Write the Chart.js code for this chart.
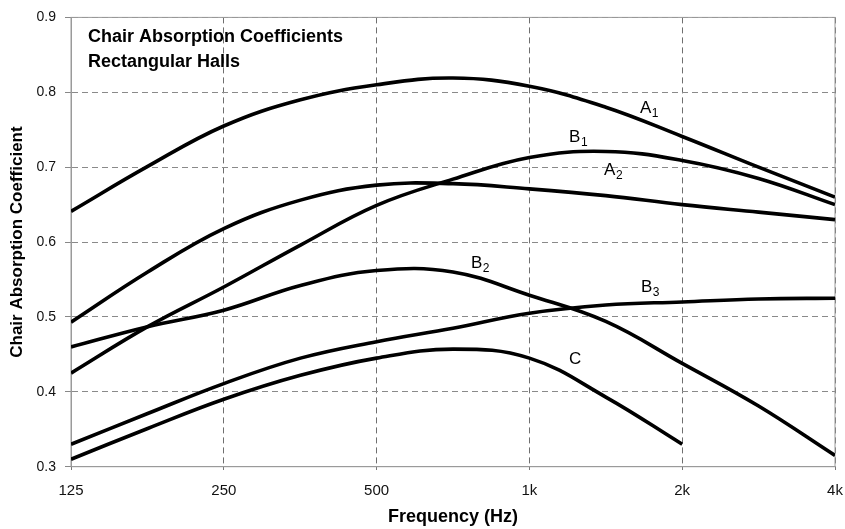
<!DOCTYPE html>
<html><head><meta charset="utf-8">
<script src="https://cdn.jsdelivr.net/npm/chart.js@4/dist/chart.umd.min.js"></script>
<style>html,body{margin:0;padding:0;background:#fff}#wrap{width:845px;height:529px}</style>
</head><body><div id="wrap"><canvas id="c" width="845" height="529"></canvas></div>
<script>
const freqs = [125, 177, 250, 354, 500, 707, 1000, 1414, 2000, 2828, 4000];
const xTickValues = [125, 250, 500, 1000, 2000, 4000];
const xTickLabels = ["125", "250", "500", "1k", "2k", "4k"];
const A1 = [0.641, 0.701, 0.755, 0.790, 0.810, 0.819, 0.808, 0.780, 0.741, 0.700, 0.660];
const A2 = [0.493, 0.560, 0.618, 0.656, 0.676, 0.678, 0.671, 0.662, 0.650, 0.640, 0.630];
const B1 = [0.425, 0.487, 0.540, 0.596, 0.649, 0.684, 0.713, 0.721, 0.709, 0.685, 0.650];
const B2 = [0.460, 0.487, 0.509, 0.542, 0.562, 0.560, 0.529, 0.494, 0.438, 0.381, 0.315];
const B3 = [0.330, 0.371, 0.411, 0.445, 0.467, 0.485, 0.505, 0.516, 0.520, 0.524, 0.525];
const C  = [0.310, 0.351, 0.390, 0.422, 0.445, 0.457, 0.445, 0.393, 0.330];
const curveNames = ["A1", "A2", "B1", "B2", "B3", "C"];
const labelMain = ["A", "A", "B", "B", "B", "C"];
const labelSub  = ["1", "2", "1", "2", "3", ""];
const labelFreq = [1651, 1403, 1197, 767, 1659, 1197];
const labelVal  = [0.772, 0.689, 0.734, 0.566, 0.533, 0.437];

const series = [A1, A2, B1, B2, B3, C];
const datasets = series.map((vals, i) => ({
  label: curveNames[i],
  data: vals.map((v, j) => ({x: freqs[j], y: v})),
  borderColor: '#000', borderWidth: 3.6, pointRadius: 0,
  tension: 0.4, fill: false, borderCapStyle: 'butt', borderJoinStyle: 'round'
}));

const FONT = '"Liberation Sans", Arial, sans-serif';

const decor = {
  id: 'decor',
  beforeDatasetsDraw(chart) {
    const {ctx, chartArea: a} = chart;
    ctx.save();
    ctx.strokeStyle = '#9a9a9a'; ctx.lineWidth = 1;
    ctx.strokeRect(a.left, a.top, a.right - a.left, a.bottom - a.top);
    ctx.restore();
  },
  afterDatasetsDraw(chart) {
    const {ctx, scales: {x, y}} = chart;
    ctx.save();
    ctx.fillStyle = '#000';
    ctx.textBaseline = 'alphabetic';
    ctx.font = 'bold 18px ' + FONT;
    ctx.fillText('Chair Absorption Coefficients', 88, 42);
    ctx.fillText('Rectangular Halls', 88, 67);
    for (let i = 0; i < labelMain.length; i++) {
      const px = x.getPixelForValue(labelFreq[i]);
      const py = y.getPixelForValue(labelVal[i]);
      ctx.font = '17px ' + FONT;
      ctx.fillText(labelMain[i], px, py);
      const w = ctx.measureText(labelMain[i]).width;
      if (labelSub[i]) {
        ctx.font = '12px ' + FONT;
        ctx.fillText(labelSub[i], px + w + 0.5, py + 4);
      }
    }
    ctx.restore();
  }
};

new Chart(document.getElementById('c'), {
  type: 'line',
  data: {datasets},
  options: {
    responsive: false, animation: false, devicePixelRatio: 1,
    layout: {padding: {left: 0, right: 10, top: 16.7, bottom: 0}},
    plugins: {legend: {display: false}, tooltip: {enabled: false}},
    scales: {
      x: {
        type: 'logarithmic', min: 125, max: 4000,
        afterBuildTicks(s) { s.ticks = xTickValues.map(v => ({value: v})); },
        afterFit(s) { s.height = 529 - 466.7; s.paddingRight = 0; s.paddingLeft = 0; },
        ticks: {
          color: '#111', font: {family: FONT, size: 15}, padding: 9, autoSkip: false, maxRotation: 0,
          callback(v) { const k = xTickValues.indexOf(v); return k >= 0 ? xTickLabels[k] : ''; }
        },
        grid: {color: '#6f6f6f', tickLength: 6, tickColor: '#777', tickBorderDash: [3, 3]},
        border: {display: true, color: '#9a9a9a', width: 1, dash: [6, 4]},
        title: {display: true, text: 'Frequency (Hz)', color: '#000',
                font: {family: FONT, size: 18, weight: 'bold'}, padding: {top: 0, bottom: 1}}
      },
      y: {
        min: 0.3, max: 0.9,
        afterFit(s) { s.width = 71; },
        ticks: {stepSize: 0.1, color: '#111', font: {family: FONT, size: 14}, padding: 9,
                callback(v) { return Number(v).toFixed(1); }},
        grid: {color: '#8a8a8a', tickLength: 6, tickColor: '#888', tickBorderDash: []},
        border: {display: true, color: '#9a9a9a', width: 1, dash: [6, 4]},
        title: {display: true, text: 'Chair Absorption Coefficient', color: '#000',
                font: {family: FONT, size: 17, weight: 'bold'}, padding: {top: 7, bottom: 0}}
      }
    }
  },
  plugins: [decor]
});
</script></body></html>
